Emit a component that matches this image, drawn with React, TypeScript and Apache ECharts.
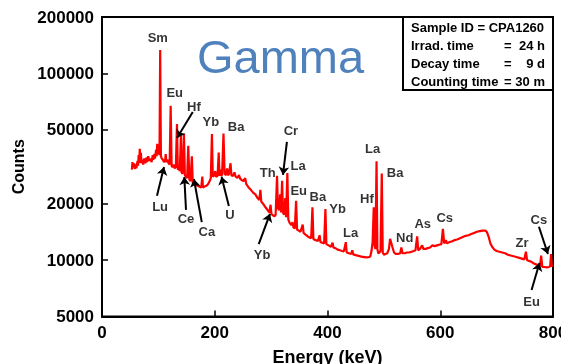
import React, { useEffect, useRef } from "react";
import * as echarts from "echarts";

// Spectrum: energy (keV) and counts
const energies = [
  53, 54, 55, 57, 58, 60, 61, 63, 64, 65, 66, 67, 68, 69, 70, 72, 73, 75, 77, 79,
  80, 82, 84, 86, 88, 90, 91, 93, 94, 96, 97, 98, 99, 101, 102, 103.2, 104.5, 106, 108, 110,
  112, 113, 114, 116, 118, 120, 121.8, 123.5, 125, 127, 129, 131, 133, 134.5, 136, 138, 140, 141, 143, 145.4,
  147, 149, 151, 153, 155, 157, 159.4, 161, 164, 167, 170, 173, 176, 178, 179, 182, 185, 188, 191, 193,
  195, 196.5, 199, 201, 202, 205, 207, 208.5, 210, 211, 213, 215.5, 217.5, 220, 222, 223, 225, 228, 229.5, 232,
  235, 237, 240, 243, 245, 248, 251, 254, 256, 260, 264, 268, 272, 276, 279, 281, 282.5, 286, 290, 294,
  297, 299, 300.5, 303, 306, 308, 310.5, 312, 314, 316, 317.5, 319.5, 321, 323, 325, 326.5, 328.8, 330.5, 333, 336,
  338, 339.5, 342, 344.3, 346, 349, 352, 356, 357.5, 361, 365, 369, 371, 373.3, 375, 379, 383, 386, 387.5, 391,
  394, 396.3, 398, 402, 406, 409, 410.5, 414, 418, 422, 426, 429, 432.5, 434, 438, 442, 444, 445.5, 450, 455,
  460, 465, 470, 474, 476, 478, 480, 482, 483.5, 485, 487, 488.5, 490, 492, 494, 496.3, 498, 500, 503, 506,
  509, 511, 513, 515, 518, 521, 525, 529, 531, 533, 537, 541, 545, 549, 553, 556, 559, 561, 564, 568,
  570, 574, 578, 582, 586, 590, 594, 598, 602, 604.7, 607, 610, 612, 616, 620, 625, 630, 635, 640, 645,
  650, 655, 660, 665, 670, 675, 680, 683, 686, 689, 692, 696, 700, 705, 710, 715, 720, 725, 730, 735,
  740, 745, 749, 752, 754, 758, 762, 766, 770, 774, 777, 779, 781, 785, 789, 793, 795, 796.5, 798
];
const counts = [
  30500, 33500, 31500, 33000, 30800, 32500, 31000, 34000, 32000, 36500, 33000, 39500, 34500, 37500, 33000, 34500, 32500, 35000, 33000, 35500,
  33500, 36000, 34000, 35000, 33500, 36500, 34500, 37000, 35000, 39000, 36000, 42000, 37000, 38500, 36500, 133000, 36000, 35000, 34500, 33500,
  34000, 37000, 33500, 34500, 33000, 32500, 67000, 32000, 31500, 32500, 31000, 31500, 53500, 30500, 31000, 30000, 46300, 29500, 29000, 47300,
  28500, 28000, 27500, 41000, 27000, 26500, 36000, 26000, 25500, 25200, 25000, 24700, 24500, 28000, 24500, 24800, 25000, 25500, 26500, 27500,
  47300, 28000, 28500, 30000, 28000, 28200, 37700, 28300, 30500, 28500, 28600, 47600, 29000, 28500, 31000, 28500, 28800, 33000, 28500, 28200,
  29500, 28000, 27600, 28500, 27300, 26800, 26500, 27500, 25500, 24500, 23800, 23000, 22500, 21500, 21000, 23800, 20600, 20000, 19200, 18500,
  18000, 19800, 17700, 17400, 17200, 17500, 28300, 19000, 18500, 22500, 18000, 26600, 18000, 17500, 21500, 17000, 29300, 16500, 15800, 15400,
  16000, 15000, 14800, 20800, 14600, 14400, 14200, 15500, 14000, 13700, 13400, 13200, 13100, 19200, 13000, 12800, 12700, 13600, 12500, 12400,
  12300, 18800, 12200, 12000, 11800, 12400, 11700, 11600, 11400, 11300, 11200, 11150, 12500, 11000, 10900, 10800, 11300, 10750, 10650, 10550,
  10450, 10400, 10350, 10400, 10500, 11200, 12500, 19200, 12000, 11500, 33800, 11500, 10900, 11000, 11200, 29100, 11000, 10700, 10800, 10900,
  11500, 13000, 12400, 11800, 11000, 10800, 10800, 10900, 11700, 10900, 10900, 11000, 11000, 11100, 11200, 11300, 13400, 11300, 11500, 12000,
  11500, 11500, 11600, 11700, 12000, 11900, 12000, 12100, 12200, 14700, 12300, 12800, 12300, 12500, 12600, 12800, 12900, 13100, 13300, 13500,
  13600, 13800, 14000, 14200, 14300, 14400, 14400, 14100, 13300, 12300, 11800, 11400, 11200, 11100, 11000, 10900, 10700, 10600, 10500, 10400,
  10300, 10200, 10100, 11100, 10000, 9900, 9800, 9600, 9500, 9400, 9300, 10600, 9200, 9200, 9150, 9200, 9300, 10800, 9200
];

// Axis ticks
const yTicks = [5000, 10000, 20000, 50000, 100000, 200000];

// Element labels (text centre in data coordinates)
const labelNames = ["Sm", "Eu", "Hf", "Yb", "Ba", "Cr", "Th", "La", "Eu", "Ba", "Yb", "La", "La", "Hf", "Ba", "Nd", "As", "Cs", "Zr", "Cs", "Eu", "Lu", "Ce", "Ca", "U", "Yb"];
const labelEnergy = [99, 129, 163, 193, 238, 335, 294, 348, 349, 383, 418, 441, 480, 470, 520, 537, 569, 608, 745, 775, 762, 103, 149, 186, 227, 284];
const labelCounts = [156000, 78500, 66800, 54900, 51600, 49700, 29600, 32300, 23500, 21800, 18800, 14000, 39400, 21500, 29600, 13200, 15800, 17000, 12500, 16600, 5980, 19300, 16800, 14200, 17500, 10700];

// Arrows (from -> to, data coordinates)
const arrowFromE = [161, 328, 97.5, 149, 177, 225, 278, 775, 762];
const arrowFromC = [62100, 43000, 22100, 18600, 16000, 19500, 12200, 15100, 6930];
const arrowToE = [133, 321, 110, 146, 163, 212, 298, 791, 776];
const arrowToC = [45100, 28600, 31500, 27900, 27200, 28000, 17700, 10800, 9660];

// Info box
const infoNames = ["Sample ID = CPA1260", "Irrad. time", "Decay time", "Counting time"];
const infoValues = ["", "24 h", "9 d", "30 m"];

const FONT = "'Liberation Sans', Arial, sans-serif";

export default function App() {
  const ref = useRef<HTMLDivElement>(null);
  useEffect(() => {
    if (!ref.current) return;
    const chart = echarts.init(ref.current, undefined, { renderer: "svg" });
    const lineData = energies.map((e, i) => [e, counts[i]]);
    const graphics: any[] = [
      {
        type: "text",
        x: 280.5,
        y: 56,
        style: { text: "Gamma", fill: "#4F81BD", font: `47px ${FONT}`, textAlign: "center", textVerticalAlign: "middle" },
        z: 10,
      },
      {
        type: "rect",
        shape: { x: 403, y: 17, width: 150, height: 73 },
        style: { fill: "#fff", stroke: "#000", lineWidth: 2 },
        z: 10,
      },
    ];
    infoNames.forEach((t, i) => {
      const y = 27 + i * 18;
      graphics.push({
        type: "text", x: 411, y, z: 11,
        style: { text: t, fill: "#000", font: `bold 13px ${FONT}`, textAlign: "left", textVerticalAlign: "middle" },
      });
      if (infoValues[i]) {
        graphics.push({
          type: "text", x: 504, y, z: 11,
          style: { text: "=", fill: "#000", font: `bold 13px ${FONT}`, textAlign: "left", textVerticalAlign: "middle" },
        });
        graphics.push({
          type: "text", x: 545, y, z: 11,
          style: { text: infoValues[i], fill: "#000", font: `bold 13px ${FONT}`, textAlign: "right", textVerticalAlign: "middle" },
        });
      }
    });

    chart.setOption({
      animation: false,
      textStyle: { fontFamily: FONT },
      grid: { left: 102, right: 8, top: 17, bottom: 47.5, show: true, borderColor: "#000", borderWidth: 2, outerBoundsMode: "none" },
      xAxis: {
        type: "value", min: 0, max: 800, interval: 200,
        axisLine: { show: true, lineStyle: { color: "#000", width: 2 } },
        axisTick: { show: true, inside: true, length: 6, lineStyle: { color: "#000", width: 1.5 } },
        axisLabel: { color: "#000", fontSize: 17, fontWeight: "bold", fontFamily: FONT, margin: 7 },
        splitLine: { show: false },
        name: "Energy (keV)", nameLocation: "middle", nameGap: 31,
        nameTextStyle: { color: "#000", fontSize: 18, fontWeight: "bold", fontFamily: FONT },
      },
      yAxis: {
        type: "log", logBase: 10, min: 5000, max: 200000,
        axisLine: { show: true, lineStyle: { color: "#000", width: 2 } },
        axisTick: { show: true, inside: true, length: 6, lineStyle: { color: "#000", width: 1.5 }, customValues: yTicks },
        axisLabel: { customValues: yTicks, color: "#000", fontSize: 17, fontWeight: "bold", fontFamily: FONT, margin: 8, formatter: (v: number) => String(Math.round(v)) },
        minorTick: { show: false },
        splitLine: { show: false },
        name: "Counts", nameLocation: "middle", nameGap: 75, nameRotate: 90,
        nameTextStyle: { color: "#000", fontSize: 16, fontWeight: "bold", fontFamily: FONT },
      },
      series: [
        {
          type: "line", data: lineData, showSymbol: false, symbol: "none",
          lineStyle: { color: "#ff0000", width: 2.2 }, z: 2, silent: true,
        },
        {
          type: "lines", coordinateSystem: "cartesian2d", z: 4, silent: true,
          symbol: ["none", "arrow"], symbolSize: 8,
          lineStyle: { color: "#000", width: 2, opacity: 1 },
          data: arrowFromE.map((e, i) => ({ coords: [[e, arrowFromC[i]], [arrowToE[i], arrowToC[i]]] })),
        },
        {
          type: "scatter", z: 5, silent: true, symbolSize: 0,
          data: labelNames.map((n, i) => ({ name: n, value: [labelEnergy[i], labelCounts[i]] })),
          label: { show: true, position: "inside", formatter: "{b}", color: "#000", fontSize: 13, fontWeight: "bold", fontFamily: FONT },
        },
      ],
      graphic: graphics,
    });
    return () => chart.dispose();
  }, []);
  return <div ref={ref} style={{ position: "fixed", left: 0, top: 0, width: 561, height: 364 }} />;
}
